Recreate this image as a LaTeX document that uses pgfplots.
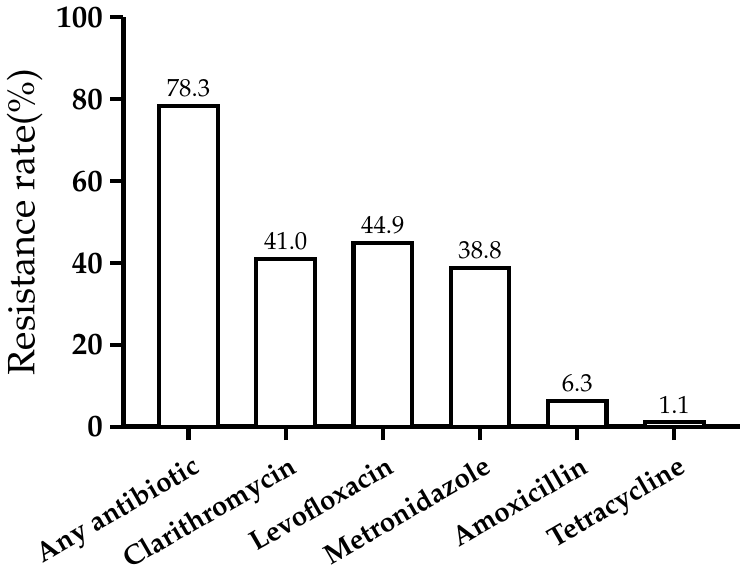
\documentclass[border=0pt]{standalone}
\usepackage[T1]{fontenc}
\usepackage{mathpazo}
\usepackage{pgfplots}
\pgfplotsset{compat=1.18}
\begin{document}
\begin{tikzpicture}
\begin{axis}[
  width=300pt, height=199pt, scale only axis,
  ybar, bar width=28.5pt, bar shift=0pt,
  xmin=-0.67, xmax=5.68, ymin=0, ymax=100,
  axis x line=bottom, axis y line=left,
  axis line style={line width=2.5pt, -},
  ytick={0,20,...,100},
  xtick={0,...,5},
  xticklabels={Any antibiotic,Clarithromycin,Levofloxacin,Metronidazole,Amoxicillin,Tetracycline},
  tick style={line width=2pt, black},
  major tick length=6.5pt, tick align=outside,
  /pgf/number format/assume math mode=true,
  yticklabel style={font=\fontsize{15}{15}\selectfont\bfseries},
  xticklabel style={font=\fontsize{13.5}{13.5}\selectfont\bfseries, rotate=30, anchor=north east, xshift=1pt, yshift=-3pt},
  ylabel={Resistance rate(\%)},
  ylabel style={font=\fontsize{18.5}{18.5}\selectfont},
  nodes near coords={\pgfmathprintnumber[fixed,fixed zerofill,precision=1]{\pgfplotspointmeta}},
  nodes near coords style={font=\fontsize{12}{12}\selectfont, black},
]
\addplot[draw=black, fill=white, line width=2pt] coordinates {
  (0,78.3) (1,41.0) (2,44.9) (3,38.8) (4,6.3) (5,1.1)
};
\end{axis}
\end{tikzpicture}
\end{document}
